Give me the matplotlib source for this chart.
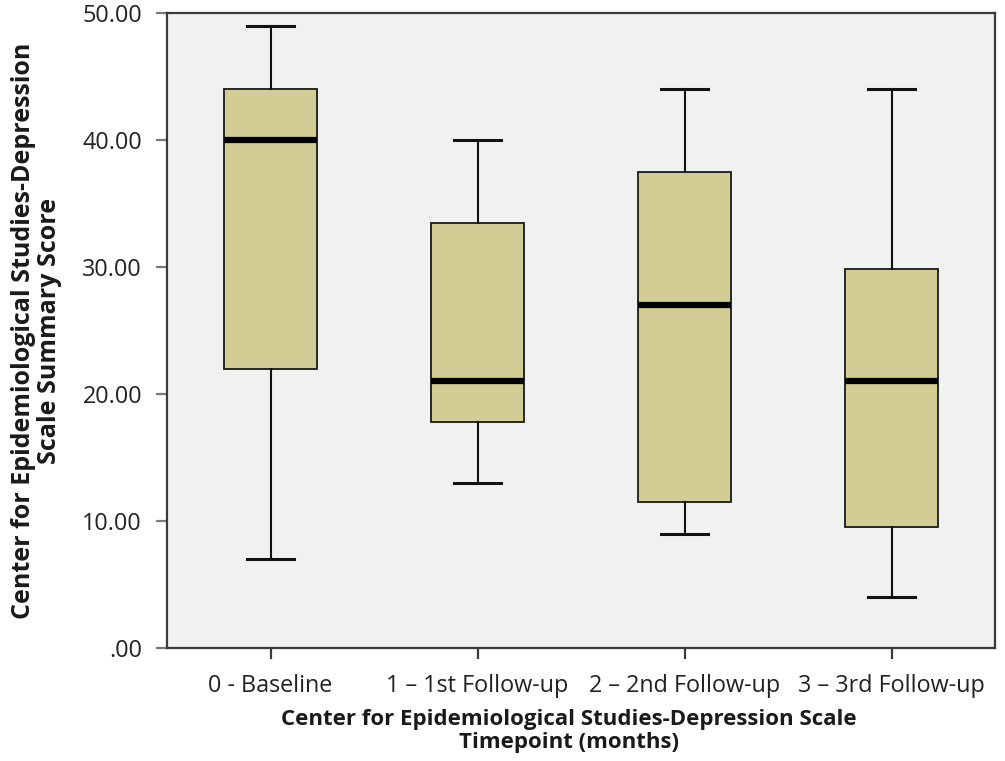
import matplotlib
matplotlib.use("Agg")
import matplotlib.pyplot as plt

plt.rcParams['font.family'] = ['Open Sans', 'DejaVu Sans']

# box statistics
labels = ["0 - Baseline", "1 \u2013 1st Follow-up", "2 \u2013 2nd Follow-up", "3 \u2013 3rd Follow-up"]
whislo = [7.0, 13.0, 9.0, 4.0]
q1 = [22.0, 17.8, 11.5, 9.5]
med = [40.0, 21.0, 27.0, 21.0]
q3 = [44.0, 33.5, 37.5, 29.8]
whishi = [49.0, 40.0, 44.0, 44.0]

stats = []
for i in range(len(labels)):
    stats.append({"label": labels[i], "whislo": whislo[i], "q1": q1[i], "med": med[i],
                  "q3": q3[i], "whishi": whishi[i], "fliers": []})

fig = plt.figure(figsize=(10.05, 7.61), dpi=100)
ax = fig.add_axes([0.1662, 0.1485, 0.824, 0.8345])
ax.set_facecolor("#f0f1f1")

ax.bxp(stats, positions=range(len(labels)), widths=0.45, patch_artist=True, showfliers=False,
       boxprops=dict(facecolor="#d2cd94", edgecolor="#1a1a1a", linewidth=1.3),
       medianprops=dict(color="black", linewidth=4.5, solid_capstyle="butt"),
       whiskerprops=dict(color="#111111", linewidth=1.5),
       capprops=dict(color="#111111", linewidth=2.2),
       capwidths=0.23)

ax.set_xlim(-0.5, 3.5)
ax.set_ylim(0, 50)
ax.set_yticks([0, 10, 20, 30, 40, 50])
ax.set_yticklabels([".00", "10.00", "20.00", "30.00", "40.00", "50.00"])

for s in ax.spines.values():
    s.set_color("#3a3a3a")
    s.set_linewidth(1.6)

ax.tick_params(axis="both", direction="out", length=8, width=1.6, color="#7a7a7a",
               labelsize=16.8, labelcolor="#222222")
ax.tick_params(axis="y", pad=10)
ax.tick_params(axis="x", pad=11, color="#3a3a3a")

ax.set_ylabel("Center for Epidemiological Studies-Depression\nScale Summary Score",
              fontsize=18, fontweight="bold", color="#1a1a1a", linespacing=1.05)
ax.yaxis.set_label_coords(-0.127, 0.5)
ax.set_xlabel("Center for Epidemiological Studies-Depression Scale\nTimepoint (months)",
              fontsize=16, fontweight="bold", color="#1a1a1a", linespacing=1.15)
ax.xaxis.set_label_coords(0.4855, -0.096)

fig.savefig("out.png", dpi=100)
